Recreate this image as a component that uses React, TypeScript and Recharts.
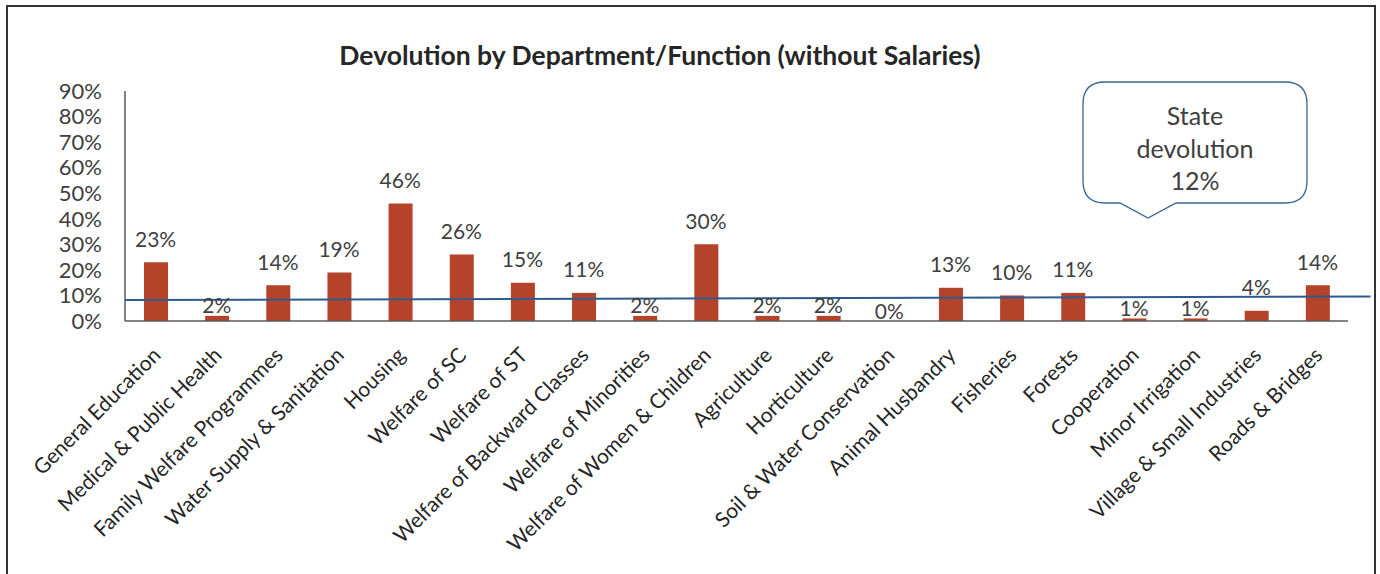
import { ComposedChart, Bar, Line, XAxis, YAxis, LabelList, ReferenceLine } from 'recharts';

const categories = [
  'General Education', 'Medical & Public Health', 'Family Welfare Programmes', 'Water Supply & Sanitation',
  'Housing', 'Welfare of SC', 'Welfare of ST', 'Welfare of Backward Classes', 'Welfare of Minorities',
  'Welfare of Women & Children', 'Agriculture', 'Horticulture', 'Soil & Water Conservation',
  'Animal Husbandry', 'Fisheries', 'Forests', 'Cooperation', 'Minor Irrigation',
  'Village & Small Industries', 'Roads & Bridges',
];
const devolution = [23, 2, 14, 19, 46, 26, 15, 11, 2, 30, 2, 2, 0, 13, 10, 11, 1, 1, 4, 14];
const yTicks = [0, 10, 20, 30, 40, 50, 60, 70, 80, 90];
// trend line end points (category index, %)
const trendStart = { x: 0, y: 8.2 };
const trendEnd = { x: 19.35, y: 9.6 };
const calloutLines = ['State', 'devolution', '12%'];

const data = categories.map((name, i) => ({ name, value: devolution[i] }));

const FONT = 'Lato, "Open Sans", sans-serif';
const TEXT = '#404040';

const CategoryTick = ({ x, y, payload }: any) => (
  <g transform={`translate(${x},${y})`}>
    <text x={-15} y={24} textAnchor="end" transform="rotate(-45)" fontSize={21} fill="#262626" fontFamily={FONT}>
      {payload.value}
    </text>
  </g>
);

// labels hang off an invisible line so the 0% bar still gets one
const ValueLabel = ({ x, y, value }: any) => {
  const gap = value < 3 ? 11 : 24;
  return (
    <text x={x} y={y - gap} textAnchor="middle" dominantBaseline="central" fontSize={21} fill={TEXT} fontFamily={FONT}>
      {`${value}%`}
    </text>
  );
};

export default function App() {
  return (
    <div style={{ position: 'absolute', left: 0, top: 0, width: 1380, height: 574, overflow: 'hidden', background: '#fff', fontFamily: FONT }}>
      <div style={{ position: 'absolute', left: 6, top: 5, width: 1366, height: 640, border: '2px solid #333' }} />
      <div style={{ position: 'absolute', left: 0, top: 39, width: 1320, textAlign: 'center', fontSize: 26.5, fontWeight: 700, color: '#262626' }}>
        Devolution by Department/Function (without Salaries)
      </div>
      <div style={{ position: 'absolute', left: 0, top: 0 }}>
        <ComposedChart width={1380} height={574} data={data} margin={{ top: 91, right: 32, bottom: 0, left: 0 }}>
          <XAxis
            dataKey="name"
            interval={0}
            height={253}
            tickLine={false}
            axisLine={{ stroke: '#595959', strokeWidth: 1.5 }}
            tick={<CategoryTick />}
          />
          <XAxis xAxisId="num" type="number" domain={[-0.5, 19.5]} hide />
          <YAxis
            domain={[0, 90]}
            ticks={yTicks}
            interval={0}
            width={125}
            tickSize={0}
            tickMargin={23}
            tickLine={false}
            axisLine={{ stroke: '#595959', strokeWidth: 1.5 }}
            tickFormatter={(v: number) => `${v}%`}
            tick={{ fontSize: 22, fill: TEXT, fontFamily: FONT }}
          />
          <Bar dataKey="value" fill="#B4432A" barSize={24} isAnimationActive={false} />
          <Line dataKey="value" stroke="none" dot={false} activeDot={false} isAnimationActive={false}>
            <LabelList dataKey="value" content={<ValueLabel />} />
          </Line>
          <ReferenceLine
            xAxisId="num"
            segment={[trendStart, trendEnd]}
            stroke="#2E5B8C"
            strokeWidth={2}
            ifOverflow="visible"
          />
        </ComposedChart>
      </div>
      <svg style={{ position: 'absolute', left: 0, top: 0 }} width={1380} height={574}>
        <path
          d="M1105,82 H1285 Q1307,82 1307,104 V181 Q1307,203 1285,203 H1176 L1148,218 L1120,203 H1105 Q1083,203 1083,181 V104 Q1083,82 1105,82 Z"
          fill="#fff"
          stroke="#3A6591"
          strokeWidth={1.3}
        />
        {calloutLines.map((t, i) => (
          <text key={t} x={1195} y={115 + i * 32.5} textAnchor="middle" dominantBaseline="central" fontSize={25} fill={TEXT} fontFamily={FONT}>
            {t}
          </text>
        ))}
      </svg>
    </div>
  );
}
